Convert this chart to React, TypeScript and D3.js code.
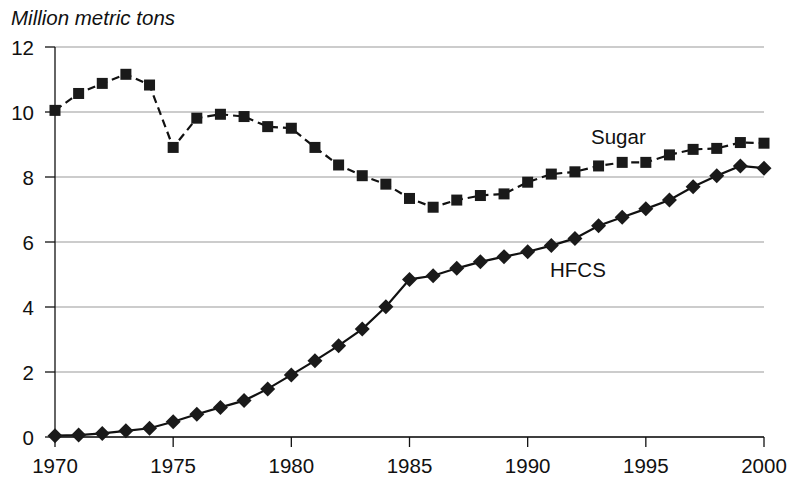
import * as d3 from "d3";

const years = d3.range(1970, 2001);
const sugar = [
  10.05, 10.57, 10.88, 11.16, 10.83, 8.91, 9.81, 9.93, 9.86, 9.55, 9.5, 8.91, 8.37, 8.04, 7.78,
  7.34, 7.07, 7.29, 7.43, 7.48, 7.84, 8.09, 8.16, 8.34, 8.45, 8.45, 8.68, 8.85, 8.88, 9.06, 9.04,
];
const hfcs = [
  0.04, 0.06, 0.11, 0.19, 0.27, 0.47, 0.7, 0.91, 1.12, 1.48, 1.91, 2.35, 2.81, 3.32, 4.01,
  4.85, 4.96, 5.19, 5.39, 5.55, 5.7, 5.89, 6.11, 6.5, 6.76, 7.02, 7.29, 7.7, 8.04, 8.34, 8.27,
];
const yTicks = [0, 2, 4, 6, 8, 10, 12];
const xTicks = [1970, 1975, 1980, 1985, 1990, 1995, 2000];

const W = 790;
const H = 479;
const font = "'Liberation Sans', Arial, Helvetica, sans-serif";
const fs = 20.5;

export default function App() {
  const x = d3.scaleLinear().domain([1970, 2000]).range([55, 764]);
  const y = d3.scaleLinear().domain([0, 12]).range([437, 47]);
  const line = d3
    .line<number>()
    .x((_, i) => x(years[i]))
    .y((d) => y(d));
  const diamond = 7.5;

  return (
    <svg width={W} height={H} style={{ position: "absolute", left: 0, top: 0, background: "#fff" }}>
      <text x={11} y={25} fontFamily={font} fontSize={20.5} fontStyle="italic" fill="#111">
        Million metric tons
      </text>
      {/* grid */}
      {yTicks.map((t) => (
        <line key={"g" + t} x1={x(1970)} x2={x(2000)} y1={y(t)} y2={y(t)} stroke="#999" strokeWidth={1.2} />
      ))}
      {/* y axis */}
      <line x1={x(1970)} x2={x(1970)} y1={y(12)} y2={y(0)} stroke="#111" strokeWidth={1.3} />
      {yTicks.map((t) => (
        <g key={"y" + t}>
          <line x1={x(1970) - 10} x2={x(1970)} y1={y(t)} y2={y(t)} stroke="#111" strokeWidth={1.3} />
          <text x={x(1970) - 21} y={y(t) + 7.5} textAnchor="end" fontFamily={font} fontSize={fs} fill="#111">
            {t}
          </text>
        </g>
      ))}
      {/* x axis */}
      <line x1={x(1970)} x2={x(2000)} y1={y(0)} y2={y(0)} stroke="#111" strokeWidth={1.3} />
      {xTicks.map((t) => (
        <g key={"x" + t}>
          <line x1={x(t)} x2={x(t)} y1={y(0)} y2={y(0) + 10} stroke="#111" strokeWidth={1.3} />
          <text x={x(t)} y={y(0) + 36} textAnchor="middle" fontFamily={font} fontSize={fs} fill="#111">
            {t}
          </text>
        </g>
      ))}
      {/* sugar */}
      <path d={line(sugar) ?? ""} fill="none" stroke="#111" strokeWidth={2.2} strokeDasharray="8,5" />
      {sugar.map((v, i) => (
        <rect key={"s" + i} x={x(years[i]) - 5.5} y={y(v) - 5.5} width={11} height={11} fill="#1a1a1a" />
      ))}
      {/* hfcs */}
      <path d={line(hfcs) ?? ""} fill="none" stroke="#111" strokeWidth={2.2} />
      {hfcs.map((v, i) => {
        const cx = x(years[i]);
        const cy = y(v);
        return (
          <path
            key={"h" + i}
            d={`M${cx},${cy - diamond}L${cx + diamond},${cy}L${cx},${cy + diamond}L${cx - diamond},${cy}Z`}
            fill="#1a1a1a"
          />
        );
      })}
      <text x={591} y={144} fontFamily={font} fontSize={fs} fill="#111">
        Sugar
      </text>
      <text x={550} y={277} fontFamily={font} fontSize={fs} fill="#111">
        HFCS
      </text>
    </svg>
  );
}
